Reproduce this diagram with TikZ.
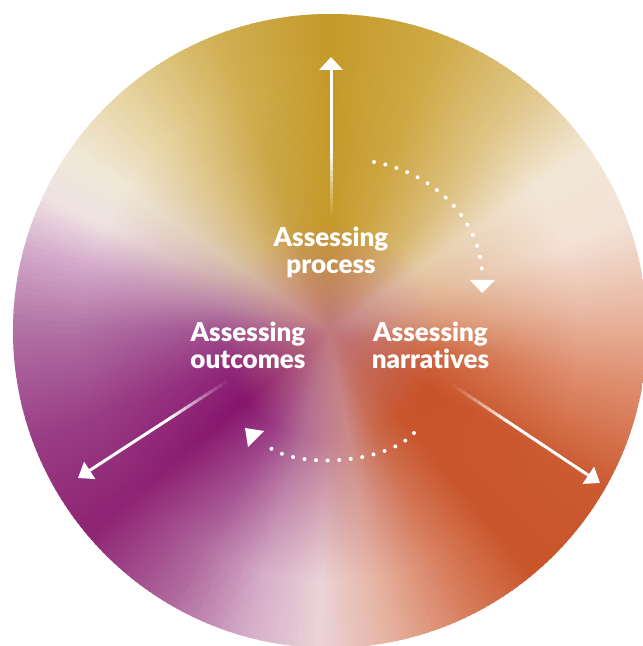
\documentclass[tikz,border=0pt]{standalone}
\usepackage{fontspec}
\setmainfont{Lato}[Ligatures=NoCommon, BoldFont={Lato Black}]
\usetikzlibrary{arrows.meta,calc}
% rim colours of the gradient
\definecolor{O1}{HTML}{B070A3}
\definecolor{O2}{HTML}{9A3D85}
\definecolor{O3}{HTML}{8E2373}
\definecolor{O4}{HTML}{B06A9E}
\definecolor{O5}{HTML}{D6AEC9}
\definecolor{O6}{HTML}{EBD3D7}
\definecolor{O7}{HTML}{E6B5A5}
\definecolor{O8}{HTML}{D98060}
\definecolor{O9}{HTML}{C9552A}
\definecolor{O10}{HTML}{CB5A30}
\definecolor{O11}{HTML}{DE8E6E}
\definecolor{O12}{HTML}{E9BBA6}
\definecolor{O13}{HTML}{F3E2D6}
\definecolor{O14}{HTML}{F2E7D6}
\definecolor{O15}{HTML}{E0C78A}
\definecolor{O16}{HTML}{CFA945}
\definecolor{O17}{HTML}{C49A2A}
\definecolor{O18}{HTML}{D0AE50}
\definecolor{O19}{HTML}{E6D29E}
\definecolor{O20}{HTML}{F0E8D6}
\definecolor{O21}{HTML}{EFE2E3}
\definecolor{O22}{HTML}{D4AACB}
% mid-ring colours (radius about 110)
\definecolor{I1}{HTML}{A05090}
\definecolor{I2}{HTML}{90287A}
\definecolor{I3}{HTML}{86156C}
\definecolor{I4}{HTML}{9A3C85}
\definecolor{I5}{HTML}{B06A95}
\definecolor{I6}{HTML}{C07F95}
\definecolor{I7}{HTML}{CC8A88}
\definecolor{I8}{HTML}{CA6848}
\definecolor{I9}{HTML}{C8552C}
\definecolor{I10}{HTML}{C8532A}
\definecolor{I11}{HTML}{D06A42}
\definecolor{I12}{HTML}{DC9A78}
\definecolor{I13}{HTML}{E2B898}
\definecolor{I14}{HTML}{E6CCA8}
\definecolor{I15}{HTML}{D8B870}
\definecolor{I16}{HTML}{CEA545}
\definecolor{I17}{HTML}{C59A28}
\definecolor{I18}{HTML}{C8A040}
\definecolor{I19}{HTML}{D6B878}
\definecolor{I20}{HTML}{D8C0A8}
\definecolor{I21}{HTML}{CCA8A8}
\definecolor{I22}{HTML}{BC8AA4}
% centre colour
\definecolor{CC}{HTML}{C07A80}
\colorlet{ci}{CC}
\colorlet{co}{CC}
% radial profile of one thin wedge: centre -> mid ring (r=110) -> rim (r=250..340)
\pgfdeclarehorizontalshading[ci,co]{wedgeshade}{100bp}{color(0bp)=(CC); color(32.35bp)=(ci); color(73.5bp)=(co); color(100bp)=(co)}
\def\stoplist{-180/-160/O1/O2/I1/I2, -160/-140/O2/O3/I2/I3, -140/-120/O3/O4/I3/I4,
 -120/-105/O4/O5/I4/I5, -105/-92/O5/O6/I5/I6, -92/-80/O6/O7/I6/I7, -80/-65/O7/O8/I7/I8,
 -65/-50/O8/O9/I8/I9, -50/-30/O9/O10/I9/I10, -30/-10/O10/O11/I10/I11, -10/5/O11/O12/I11/I12,
 5/20/O12/O13/I12/I13, 20/35/O13/O14/I13/I14, 35/50/O14/O15/I14/I15, 50/70/O15/O16/I15/I16,
 70/90/O16/O17/I16/I17, 90/110/O17/O18/I17/I18, 110/130/O18/O19/I18/I19, 130/145/O19/O20/I19/I20,
 145/155/O20/O21/I20/I21, 155/165/O21/O22/I21/I22, 165/180/O22/O1/I22/I1}
\tikzset{
  lbl/.style={text=white, font=\bfseries\fontsize{26}{27}\selectfont, align=center, inner sep=0pt},
  shaft/.style={white, line width=3pt},
  dotline/.style={white, line width=4pt, line cap=round, dash pattern=on 0pt off 11.6pt},
  bigtip/.style={-{Triangle[length=13pt,width=23pt]}},
  smalltip/.style={-{Triangle[length=14pt,width=20pt]}}
}
\newcommand\fadeshaft[2]{%
  \foreach \k in {0,...,11}{%
    \pgfmathsetmacro\ta{\k/12}%
    \pgfmathsetmacro\tb{(\k+1)/12}%
    \pgfmathsetmacro\op{((\k+0.5)/12)^1.3}%
    \draw[shaft, opacity=\op] ($(#1)!\ta!(#2)$) -- ($(#1)!\tb!(#2)$);
  }}
\begin{document}
\begin{tikzpicture}[x=1pt,y=1pt]
\useasboundingbox (0,0) rectangle (643,646);
% ---------- gradient disc ----------
\begin{scope}
\clip (330,315) circle[radius=317pt];
\fill[CC] (330,315) circle[radius=60pt];
\foreach \a/\b/\ca/\cb/\ia/\ib in \stoplist {
  \pgfmathtruncatemacro\n{max(8,round((\b-\a)/1.0))}
  \foreach \k in {1,...,\n} {
    \pgfmathsetmacro\t{\a+(\b-\a)*(\k-1)/\n}
    \pgfmathsetmacro\te{\t+(\b-\a)/\n+0.4}
    \pgfmathsetmacro\tm{\t+(\b-\a)/\n/2}
    \pgfmathsetmacro\p{100*(\k-0.5)/\n}
    \colorlet{co}{\cb!\p!\ca}
    \colorlet{ci}{\ib!\p!\ia}
    \begin{scope}
      \clip (330,315) -- ++(\t:345pt) arc[start angle=\t, end angle=\te, radius=345pt] -- cycle;
      \pgftransformshift{\pgfpoint{330pt}{315pt}}
      \pgftransformrotate{\tm}
      \pgftransformshift{\pgfpoint{170pt}{0pt}}
      \pgftransformxscale{3.387}
      \pgftransformyscale{0.6}
      \pgflowlevelsynccm
      \pgfuseshading{wedgeshade}
    \end{scope}
  }
}
\end{scope}
% ---------- labels ----------
\node[lbl] (proc) at (331,393.5) {Assessing\\process};
\node[lbl] (outc) at (248,300.5) {Assessing\\outcomes};
\node[lbl] (narr) at (430.5,300.5) {Assessing\\narratives};
% ---------- straight arrows ----------
\coordinate (s0) at (331,424);
\coordinate (t0) at (331,589);
\coordinate (m0) at ($(s0)!0.42!(t0)$);
\fadeshaft{s0}{m0}
\draw[shaft, bigtip] (m0) -- (t0);
\coordinate (s1) at (232,268);
\coordinate (t1) at (78,168);
\coordinate (m1) at ($(s1)!0.4!(t1)$);
\fadeshaft{s1}{m1}
\draw[shaft, smalltip] (m1) -- (t1);
\coordinate (s2) at (448,264);
\coordinate (t2) at (600,163);
\coordinate (m2) at ($(s2)!0.4!(t2)$);
\fadeshaft{s2}{m2}
\draw[shaft, smalltip] (m2) -- (t2);
% ---------- dotted cycle arrows ----------
\coordinate (d1s) at (374,484);
\coordinate (d1e) at (482,375);
\draw[dotline] (d1s) .. controls (430,474) and (478,431) .. (d1e);
\coordinate (h1a) at (470,366);
\coordinate (h1b) at (495,366);
\coordinate (h1c) at (482,353);
\fill[white] (h1a) -- (h1b) -- (h1c) -- cycle;
\coordinate (d2s) at (414,213);
\coordinate (d2e) at (264,203);
\draw[dotline] (d2s) .. controls (385,181) and (290,176) .. (d2e);
\coordinate (h2a) at (264,215);
\coordinate (h2b) at (248,199);
\coordinate (h2c) at (245,218);
\fill[white] (h2a) -- (h2b) -- (h2c) -- cycle;
\end{tikzpicture}
\end{document}
